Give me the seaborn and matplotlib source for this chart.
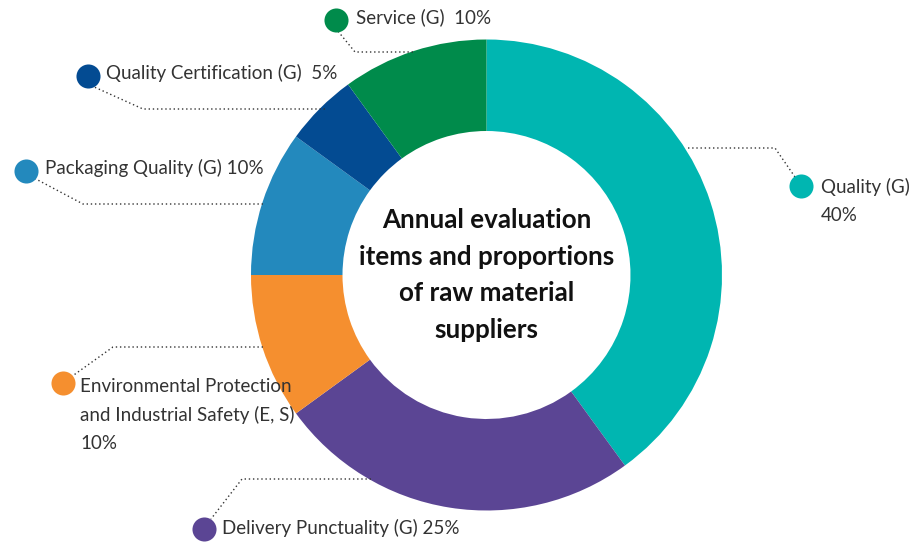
import matplotlib
matplotlib.use('Agg')
import matplotlib.pyplot as plt
import seaborn as sns

# data
items = ['Quality (G)', 'Delivery Punctuality (G)', 'Environmental Protection and Industrial Safety (E, S)',
         'Packaging Quality (G)', 'Quality Certification (G)', 'Service (G)']
shares = [40, 25, 10, 10, 5, 10]
label_texts = ['Quality (G)\n40%', 'Delivery Punctuality (G) 25%',
               'Environmental Protection\nand Industrial Safety (E, S)\n10%',
               'Packaging Quality (G) 10%', 'Quality Certification (G)  5%', 'Service (G)  10%']
colors = ['#00b6b1', '#5b4594', '#f58f2f', '#2389bd', '#034b92', '#008b4b']

sns.set_theme(style='white')
plt.rcParams['font.family'] = ['Lato', 'DejaVu Sans']

W, H = 911, 542
fig = plt.figure(figsize=(W / 100, H / 100), dpi=100)
ax = fig.add_axes([0, 0, 1, 1])

def py(y):
    # pixel row -> data y
    return H - y

cx, cy, r_out, r_in = 486.5, 275, 235.5, 144
ax.pie(shares, colors=colors, startangle=90, counterclock=False,
       center=(cx, py(cy)), radius=r_out, frame=True,
       wedgeprops=dict(width=r_out - r_in, linewidth=0))
ax.set_xlim(0, W)
ax.set_ylim(0, H)
ax.set_aspect('equal')
ax.axis('off')

ax.text(cx, py(cy), 'Annual evaluation\nitems and proportions\nof raw material\nsuppliers',
        ha='center', va='center', fontsize=18.7, fontweight='bold', color='#111111',
        linespacing=1.62)

# label layout: dot centre, text anchor, leader path (pixel coords)
layout = [
    dict(dot=(801, 186), txt=(821, 201), path=[(688, 148), (775, 148), (795, 177)]),
    dict(dot=(204, 529), txt=(222, 528), path=[(371, 479), (242, 479), (211, 519)]),
    dict(dot=(63, 383), txt=(80, 415), path=[(263, 347), (113, 347), (71, 377)]),
    dict(dot=(26, 171), txt=(45, 168), path=[(263, 204), (83, 204), (34, 178)]),
    dict(dot=(88, 76), txt=(106, 73), path=[(325, 109), (143, 109), (92, 86)]),
    dict(dot=(336, 20), txt=(356, 17), path=[(413, 52), (355, 52), (337, 30)]),
]

for lay, txt, col in zip(layout, label_texts, colors):
    xs = [p[0] for p in lay['path']]
    ys = [py(p[1]) for p in lay['path']]
    ax.plot(xs, ys, linestyle=(0, (1, 2)), color='#333333', linewidth=1)
    ax.scatter([lay['dot'][0]], [py(lay['dot'][1])], s=300, color=col, zorder=5, linewidths=0)
    ax.text(lay['txt'][0], py(lay['txt'][1]), txt, ha='left', va='center',
            fontsize=13.5, color='#333333', linespacing=1.75)

fig.savefig('out.png', dpi=100)
